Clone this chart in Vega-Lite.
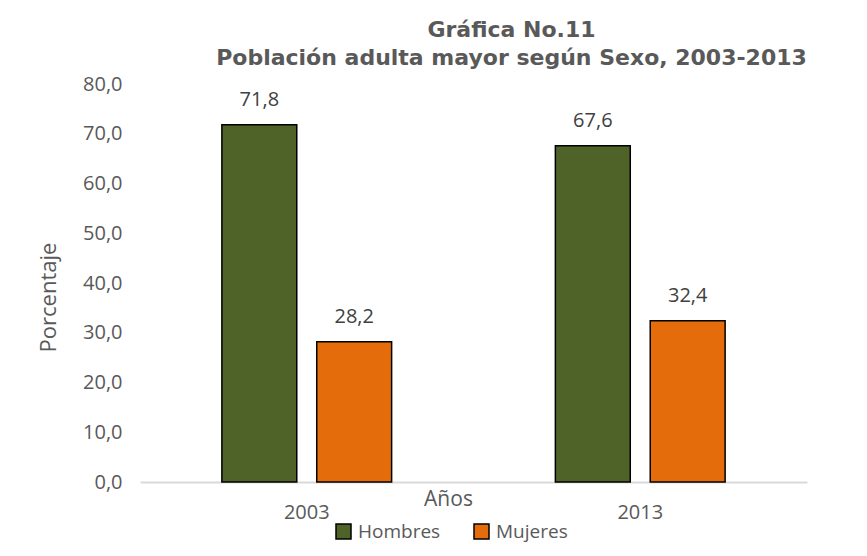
{
  "$schema": "https://vega.github.io/schema/vega-lite/v6.json",
  "autosize": "none",
  "width": 667,
  "height": 398,
  "padding": {"left": 140, "top": 84, "right": 60, "bottom": 74},
  "background": "white",
  "config": {
    "locale": {"number": {"decimal": ",", "thousands": ".", "grouping": [3], "currency": ["", " €"]}},
    "view": {"stroke": null},
    "font": "Open Sans"
  },
  "title": {
    "text": ["Gráfica No.11", "Población adulta mayor según Sexo, 2003-2013"],
    "font": "DejaVu Sans",
    "fontWeight": "bold",
    "fontSize": 22,
    "lineHeight": 28,
    "color": "#595959",
    "anchor": "middle",
    "frame": "group",
    "dx": 38,
    "offset": 4
  },
  "data": {
    "values": [
      {"year": "2003", "sexo": "Hombres", "pct": 71.8},
      {"year": "2003", "sexo": "Mujeres", "pct": 28.2},
      {"year": "2013", "sexo": "Hombres", "pct": 67.6},
      {"year": "2013", "sexo": "Mujeres", "pct": 32.4}
    ]
  },
  "encoding": {
    "x": {
      "field": "year", "type": "nominal",
      "scale": {"paddingInner": 0, "paddingOuter": 0},
      "axis": {
        "title": "Años",
        "titleFont": "Open Sans", "titleFontWeight": "normal", "titleFontSize": 21, "titleColor": "#595959",
        "titleX": 308, "titleY": 17, "titleBaseline": "middle", "titleAlign": "center",
        "labelAngle": 0, "labelFontSize": 20, "labelColor": "#595959", "labelPadding": 20,
        "ticks": false, "domainColor": "#d9d9d9", "domainWidth": 2
      }
    },
    "xOffset": {"field": "sexo", "type": "nominal", "scale": {"paddingInner": 0.2105, "paddingOuter": 0.863}},
    "y": {
      "field": "pct", "type": "quantitative",
      "scale": {"domain": [0, 80]},
      "axis": {
        "title": "Porcentaje",
        "titleFont": "Open Sans", "titleFontWeight": "normal", "titleFontSize": 22, "titleColor": "#595959",
        "titleX": -92, "titleY": 213, "titleAngle": -90, "titleAlign": "center", "titleBaseline": "middle",
        "values": [0, 10, 20, 30, 40, 50, 60, 70, 80],
        "format": ".1f",
        "labelFontSize": 20, "labelColor": "#595959", "labelPadding": 18,
        "ticks": false, "domain": false, "grid": false
      }
    }
  },
  "layer": [
    {
      "mark": {"type": "bar", "stroke": "black", "strokeWidth": 1.5},
      "encoding": {
        "color": {
          "field": "sexo", "type": "nominal",
          "scale": {"domain": ["Hombres", "Mujeres"], "range": ["#4f6228", "#e46c0a"]},
          "legend": {
            "title": null, "orient": "none", "direction": "horizontal",
            "legendX": 194, "legendY": 438,
            "symbolType": "square", "symbolSize": 225,
            "symbolStrokeColor": "black", "symbolStrokeWidth": 1.5,
            "labelFontSize": 19, "labelColor": "#595959", "labelOffset": 5,
            "columnPadding": 30
          }
        }
      }
    },
    {
      "mark": {"type": "text", "baseline": "middle", "dy": -25, "fontSize": 20, "color": "#404040"},
      "encoding": {
        "text": {"field": "pct", "type": "quantitative", "format": ".1f"}
      }
    }
  ]
}
